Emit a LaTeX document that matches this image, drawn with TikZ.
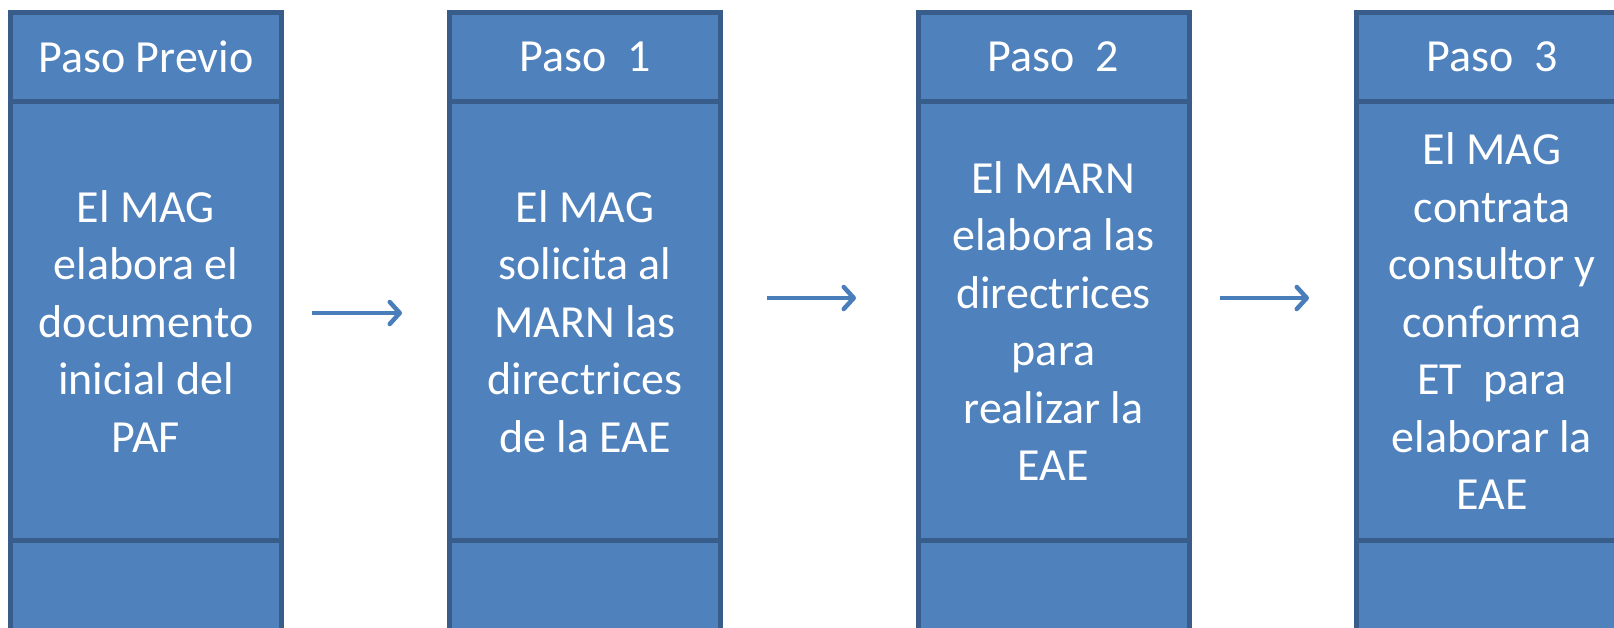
\documentclass[tikz,border=0pt]{standalone}
\usepackage{fontspec}
\setmainfont{Carlito}
\usepackage{tikz}
\usetikzlibrary{positioning,arrows.meta}
\definecolor{relleno}{HTML}{4F81BD}
\definecolor{borde}{HTML}{385D8A}
\definecolor{flechaazul}{HTML}{4A7EBB}
\tikzset{celda/.style = {rectangle,draw=borde,fill=relleno,line width=5pt,inner sep=0pt,outer sep=0pt,
                         minimum width=271pt,text=white,align=center,
                         font=\fontsize{46}{57.5}\selectfont},
         cabeza/.style = {celda,minimum height=89.5pt},
         cuerpo/.style = {celda,minimum height=439pt},
         pie/.style = {celda,minimum height=150pt},
         flecha/.style = {draw=flechaazul,line width=4.5pt,-{Straight Barb[length=10pt,width=22pt,round]}}}

\begin{document}
\begin{tikzpicture}[x=1pt,y=-1pt]
                \clip (0,0) rectangle (1614,627);
                \fill[white] (0,0) rectangle (1614,627);
                \foreach \n/\x/\head/\body in {
                    0/146/{Paso Previo}/{El MAG\\elabora el\\documento\\inicial del\\PAF},
                    1/585/{Paso\ \ 1}/{El MAG\\solicita al\\MARN las\\directrices\\de la EAE},
                    2/1053.5/{Paso\ \ 2}/{El MARN\\elabora las\\directrices\\para\\realizar la\\EAE},
                    3/1492/{Paso\ \ 3}/{El MAG\\contrata\\consultor y\\conforma\\ET\ \ para\\elaborar la\\EAE}} {
                    \node [cabeza] (h\n) at (\x,57) {\head};
                    \node [cuerpo,below=0pt of h\n] (b\n) {\body};
                    \node [pie,below=0pt of b\n] (p\n) {};
                }
                \coordinate (s1) at (312,313);
                \coordinate (e1) at (402,313);
                \coordinate (s2) at (767,298);
                \coordinate (e2) at (856,298);
                \coordinate (s3) at (1220,298);
                \coordinate (e3) at (1309,298);
                \foreach \k in {1,2,3} {
                    \draw [flecha] (s\k) -- (e\k);
                }
            \end{tikzpicture}
\end{document}
